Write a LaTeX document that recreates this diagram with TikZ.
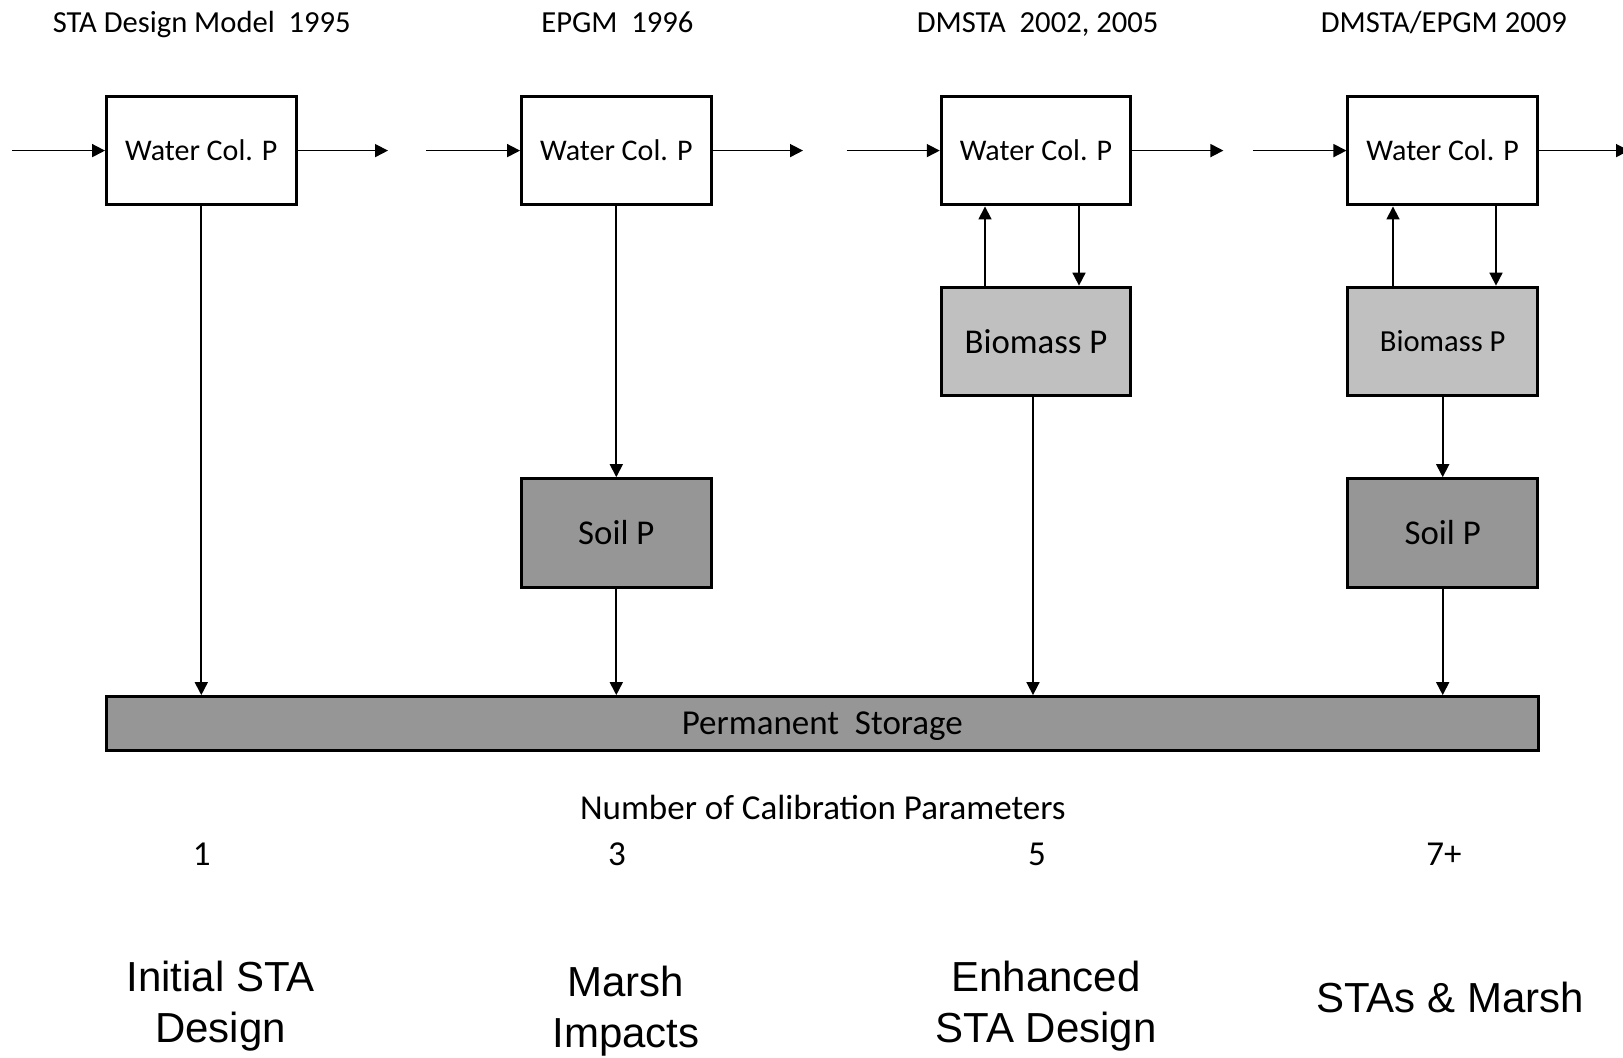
\documentclass[tikz,border=0pt]{standalone}
\usepackage{fontspec}
\setmainfont{Carlito}
\newfontfamily\arialf{Liberation Sans}
\usetikzlibrary{arrows.meta,calc}
\definecolor{lightbox}{RGB}{192,192,192}
\definecolor{darkbox}{RGB}{150,150,150}
\tikzset{
  pbox/.style={draw=black, line width=1.5pt, rectangle, minimum width=94.75pt, minimum height=54.35pt, inner sep=0pt, align=center},
  waterbox/.style={pbox, fill=white, font=\fontsize{15}{18}\selectfont},
  biobox/.style={pbox, fill=lightbox},
  soilbox/.style={pbox, fill=darkbox, font=\fontsize{17.4}{20}\selectfont},
  permbox/.style={draw=black, line width=1.5pt, rectangle, fill=darkbox, minimum width=715.7pt, minimum height=26.9pt, inner sep=0pt, text depth=0pt, font=\fontsize{17.5}{20}\selectfont},
  arr/.style={line width=0.85pt, -{Triangle[length=6.5pt, width=6.5pt]}},
  titletxt/.style={inner sep=0pt, anchor=base, font=\fontsize{15.3}{18}\selectfont},
  numtxt/.style={inner sep=0pt, font=\fontsize{17.5}{20}\selectfont},
  stagetxt/.style={inner sep=0pt, align=center, font=\arialf\fontsize{21}{25.2}\selectfont},
}
\begin{document}
\begin{tikzpicture}[x=0.5pt, y=-0.5pt]
\useasboundingbox (0,0) rectangle (1623,1058);
\clip (0,0) rectangle (1623,1058);
\fill[white] (0,0) rectangle (1623,1058);

% titles
\node[titletxt] (t1) at (201.8,32.5) {STA Design Model\ \ 1995};
\node[titletxt] (t2) at (617.4,32.5) {EPGM\ \ 1996};
\node[titletxt] (t3) at (1037.6,32.5) {DMSTA\ \ 2002, 2005};
\node[titletxt] (t4) at (1443.8,32.5) {DMSTA/EPGM 2009};

% water column boxes
\node[waterbox] (W1) at (201.3,150.6) {Water Col. P};
\node[waterbox] (W2) at (616.3,150.6) {Water Col. P};
\node[waterbox] (W3) at (1036,150.6) {Water Col. P};
\node[waterbox] (W4) at (1442.7,150.6) {Water Col. P};

% biomass boxes
\node[biobox, font=\fontsize{17.4}{20}\selectfont] (B3) at (1036,341.5) {Biomass P};
\node[biobox, font=\fontsize{15.3}{18}\selectfont] (B4) at (1442.7,341.5) {Biomass P};

% soil boxes
\node[soilbox] (S2) at (616.3,533) {Soil P};
\node[soilbox] (S4) at (1442.7,533) {Soil P};

% permanent storage
\node[permbox] (P) at (822.3,723.5) {Permanent\ \ Storage};

% horizontal flow coordinates
\coordinate (i1) at (12.4,150.6);
\coordinate (o1) at (388,150.6);
\coordinate (i2) at (426.4,150.6);
\coordinate (o2) at (803,150.6);
\coordinate (i3) at (846.6,150.6);
\coordinate (o3) at (1223.4,150.6);
\coordinate (i4) at (1253.4,150.6);
\coordinate (o4) at (1629,150.6);

\draw[arr] (i1) -- (W1.west);
\draw[arr] (W1.east) -- (o1);
\draw[arr] (i2) -- (W2.west);
\draw[arr] (W2.east) -- (o2);
\draw[arr] (i3) -- (W3.west);
\draw[arr] (W3.east) -- (o3);
\draw[arr] (i4) -- (W4.west);
\draw[arr] (W4.east) -- (o4);

% column 1
\draw[arr] (W1.south) -- (W1.south |- P.north);
% column 2
\draw[arr] (W2.south) -- (S2.north);
\draw[arr] (S2.south) -- (S2.south |- P.north);
% column 3
\draw[arr] ([xshift=-25.5pt]B3.north) -- ([xshift=-25.5pt]W3.south);
\draw[arr] ([xshift=21.5pt]W3.south) -- ([xshift=21.5pt]B3.north);
\draw[arr] ([xshift=-1.5pt]B3.south) -- ([xshift=-1.5pt]B3.south |- P.north);
% column 4
\draw[arr] ([xshift=-24.85pt]B4.north) -- ([xshift=-24.85pt]W4.south);
\draw[arr] ([xshift=26.65pt]W4.south) -- ([xshift=26.65pt]B4.north);
\draw[arr] (B4.south) -- (S4.north);
\draw[arr] (S4.south) -- (S4.south |- P.north);

% calibration parameters
\node[numtxt] (cal) at (822.8,807.3) {Number of Calibration Parameters};
\node[numtxt] (n1) at (201.8,853.9) {1};
\node[numtxt] (n2) at (617,853.9) {3};
\node[numtxt] (n3) at (1037,853.9) {5};
\node[numtxt] (n4) at (1444,853.9) {7+};

% stage labels
\node[stagetxt] (s1) at (220.5,1006) {Initial STA\\Design};
\node[stagetxt] (s2) at (626,1011) {Marsh\\Impacts};
\node[stagetxt] (s3) at (1046,1006) {Enhanced\\STA Design};
\node[stagetxt] (s4) at (1450,997) {STAs \& Marsh};
\end{tikzpicture}
\end{document}
